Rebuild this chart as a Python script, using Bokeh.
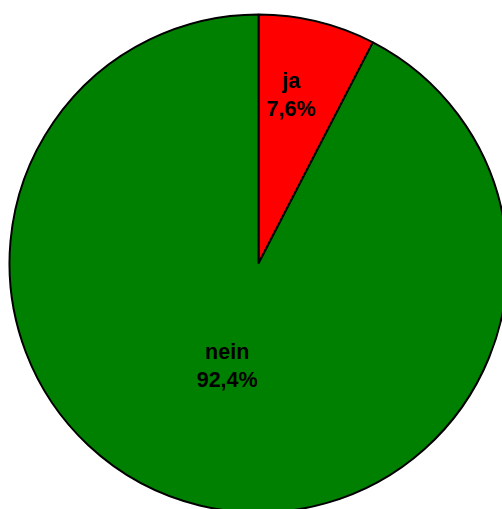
import math
from bokeh.plotting import figure
from bokeh.models import ColumnDataSource, Range1d
from bokeh.core.properties import value
from bokeh.embed import file_html
from bokeh.resources import INLINE

# data
categories = ["ja", "nein"]
shares = [7.6, 92.4]
colors = ["#ff0000", "#008000"]
# label placement (fraction of slice angle, fraction of radius)
label_angle_frac = [0.40, 0.51]
label_radius_frac = [0.69, 0.43]

R = 249
total = sum(shares)
starts, ends, lx, ly, names, pcts = [], [], [], [], [], []
cum = 0.0
for cat, s, fa, fr in zip(categories, shares, label_angle_frac, label_radius_frac):
    a0 = cum / total * 2 * math.pi
    cum += s
    a1 = cum / total * 2 * math.pi
    # clockwise from top -> bokeh anticlockwise from +x
    starts.append(math.pi / 2 - a1)
    ends.append(math.pi / 2 - a0)
    la = a0 + (a1 - a0) * fa
    lx.append(math.sin(la) * R * fr)
    ly.append(math.cos(la) * R * fr)
    names.append(cat)
    pcts.append(f"{s:.1f}".replace(".", ",") + "%")

src = ColumnDataSource(dict(start=starts, end=ends, color=colors, x=lx, y=ly,
                            name=names, pct=pcts))

p = figure(width=502, height=509, output_backend="svg", toolbar_location=None,
           x_range=Range1d(-258, 244), y_range=Range1d(-246, 263),
           min_border=0)
p.axis.visible = False
p.grid.visible = False
p.outline_line_color = None
p.background_fill_color = "white"
p.border_fill_color = "white"

p.wedge(x=0, y=0, radius=R, start_angle="start", end_angle="end",
        fill_color="color", line_color="black", line_width=2, source=src)

common = dict(text_font=value("Liberation Sans"), text_font_style="bold",
              text_font_size="21.5px", text_align="center", text_baseline="middle",
              text_color="black", source=src)
p.text(x="x", y="y", text="name", y_offset=-14, **common)
p.text(x="x", y="y", text="pct", y_offset=14, **common)

open("out.html", "w").write(file_html(p, INLINE))
